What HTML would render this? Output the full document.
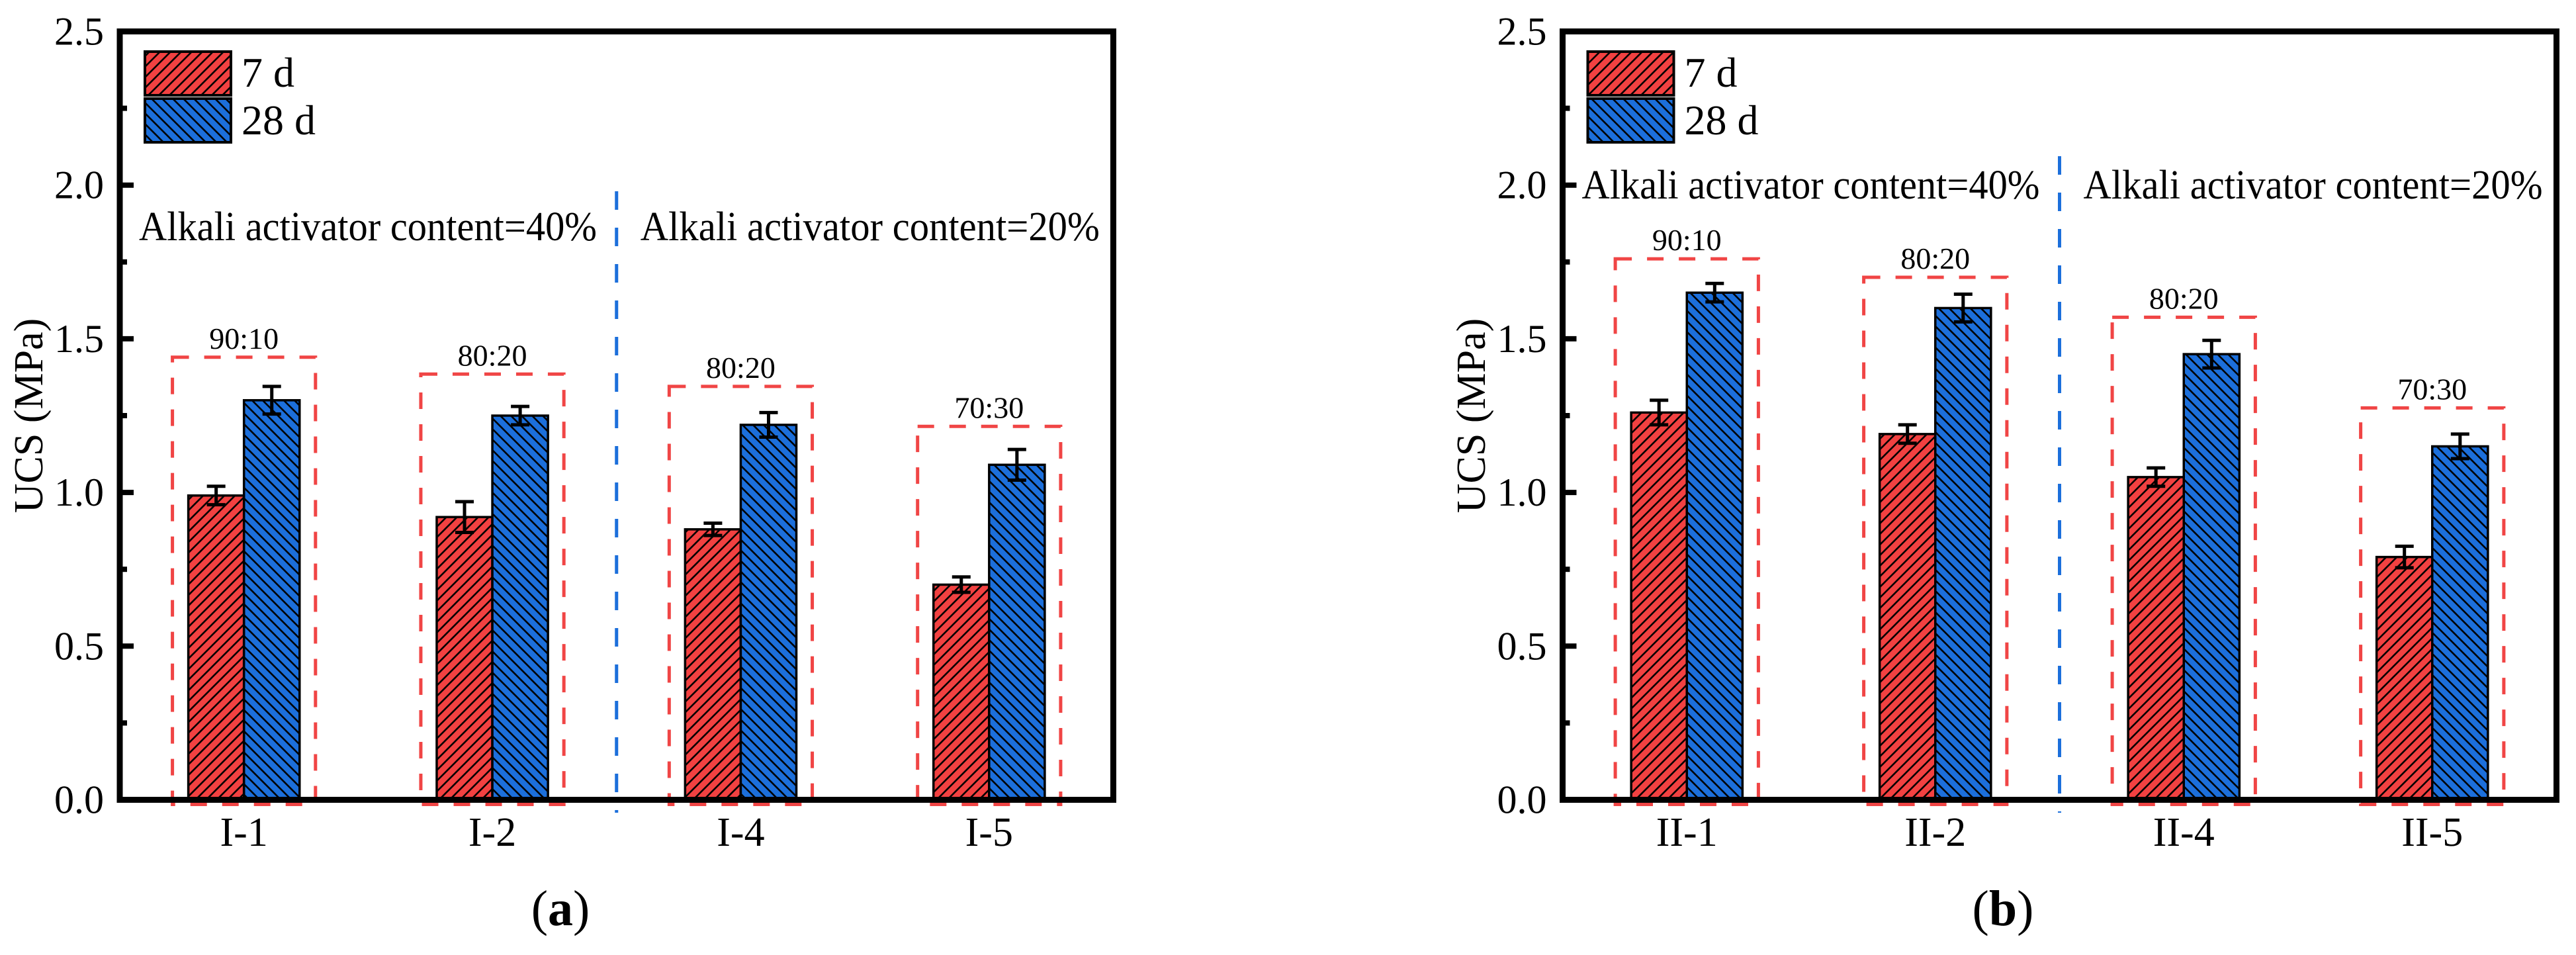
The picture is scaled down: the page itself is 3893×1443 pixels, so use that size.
<!DOCTYPE html>
<html><head><meta charset="utf-8"><style>
html,body{margin:0;padding:0;background:#fff;}
svg, svg text{font-family:"Liberation Serif","Times New Roman",serif;}
</style></head><body>
<svg id="chart" width="3893" height="1438" viewBox="0 0 3893 1438" xmlns="http://www.w3.org/2000/svg" font-family="Liberation Serif, serif">
<defs>
<pattern id="hatchRed" patternUnits="userSpaceOnUse" width="16" height="16">
<rect width="16" height="16" fill="#F24141"/>
<path d="M-4,4 L4,-4 M0,16 L16,0 M12,20 L20,12" stroke="#000" stroke-width="2.6"/>
</pattern>
<pattern id="hatchBlue" patternUnits="userSpaceOnUse" width="16" height="16">
<rect width="16" height="16" fill="#1C6FDB"/>
<path d="M-4,12 L4,20 M0,0 L16,16 M12,-4 L20,4" stroke="#000" stroke-width="2.6"/>
</pattern>
</defs>
</svg>
<script>
const categoriesA = ["I-1","I-2","I-4","I-5"];
const categoriesB = ["II-1","II-2","II-4","II-5"];
const day7A = [0.99,0.92,0.88,0.70];
const day28A = [1.30,1.25,1.22,1.09];
const err7A = [0.03,0.05,0.02,0.025];
const err28A = [0.045,0.03,0.04,0.05];
const day7B = [1.26,1.19,1.05,0.79];
const day28B = [1.65,1.60,1.45,1.15];
const err7B = [0.04,0.03,0.03,0.035];
const err28B = [0.03,0.045,0.045,0.04];
const ratioLabelsA = ["90:10","80:20","80:20","70:30"];
const ratioLabelsB = ["90:10","80:20","80:20","70:30"];
const boxTopsA = [1.44,1.385,1.345,1.215];
const boxTopsB = [1.76,1.70,1.57,1.275];
const yTicks = ["0.0","0.5","1.0","1.5","2.0","2.5"];

const NS = "http://www.w3.org/2000/svg";
const FONT = "Liberation Serif, Times New Roman, serif";
const svg = document.getElementById("chart");
function mk(tag, attrs, parent){
  const e = document.createElementNS(NS, tag);
  if (tag === "text") e.setAttribute("font-family", FONT);
  for (const k in attrs) e.setAttribute(k, attrs[k]);
  (parent||svg).appendChild(e);
  return e;
}

function panel(cfg){
  const g = mk("g", {});
  
  
  const L = cfg.left, R = cfg.right, T = 47.5, B = 1208.5;
  const W = R - L;
  const y = v => B - v / 2.5 * (B - T);
  const xc = i => L + W * (i + 0.5) / 4;
  const bw = W * 0.056;

  cfg.cats.forEach((c, i) => {
    const bx = mk("rect", {x: xc(i) - W*0.072, y: y(cfg.boxTops[i]), width: W*0.144, height: y(-0.015) - y(cfg.boxTops[i]),
      fill: "none", stroke: "#F04545", "stroke-width": 5, "stroke-dasharray": "25 23"}, g);
    
    
    const lb = mk("text", {x: xc(i), y: y(cfg.boxTops[i]) - 13, "text-anchor": "middle", "font-size": 46}, g);
    lb.textContent = cfg.ratios[i];
    
    
  });

  cfg.cats.forEach((c, i) => {
    const series = [[cfg.d7, cfg.e7, "url(#hatchRed)", "7d"], [cfg.d28, cfg.e28, "url(#hatchBlue)", "28d"]];
    series.forEach((s, k) => {
      const x0 = xc(i) - bw + k * bw;
      const b = mk("rect", {x: x0, y: y(s[0][i]), width: bw, height: B - y(s[0][i]), fill: s[2], stroke: "#000", "stroke-width": 3.5}, g);
      
      
      const cx = x0 + bw / 2, yt = y(s[0][i] + s[1][i]), yb = y(s[0][i] - s[1][i]);
      const eb = mk("path", {d: `M${cx},${yt}V${yb}M${cx-14},${yt}H${cx+14}M${cx-14},${yb}H${cx+14}`, stroke: "#000", "stroke-width": 5, fill: "none"}, g);
      
      
    });
  });

  const dv = mk("line", {x1: (L+R)/2, x2: (L+R)/2, y1: cfg.divTop, y2: 1228, stroke: "#1C6FDB", "stroke-width": 5, "stroke-dasharray": "28 27"}, g);
  
  

  const a1 = mk("text", {x: L + 29, y: cfg.annY, "font-size": 62, textLength: 692, lengthAdjust: "spacingAndGlyphs"}, g);
  a1.textContent = "Alkali activator content=40%";
  
  
  const a2 = mk("text", {x: L + W*0.524, y: cfg.annY, "font-size": 62, textLength: 694, lengthAdjust: "spacingAndGlyphs"}, g);
  a2.textContent = "Alkali activator content=20%";
  
  

  const fr = mk("rect", {x: L, y: T, width: W, height: B - T, fill: "none", stroke: "#000", "stroke-width": 9}, g);
  
  

  yTicks.forEach((t, i) => {
    const v = parseFloat(t);
    const tk = mk("line", {x1: L, x2: L + 21, y1: y(v), y2: y(v), stroke: "#000", "stroke-width": 8}, g);
    
    
    const tl = mk("text", {x: L - 24, y: y(v) + 20, "text-anchor": "end", "font-size": 60}, g);
    tl.textContent = t;
    
    
    if (i < yTicks.length - 1) {
      const mn = mk("line", {x1: L, x2: L + 11, y1: y(v + 0.25), y2: y(v + 0.25), stroke: "#000", "stroke-width": 8}, g);
      
      
    }
  });

  cfg.cats.forEach((c, i) => {
    const xl = mk("text", {x: xc(i), y: 1278, "text-anchor": "middle", "font-size": 62}, g);
    xl.textContent = c;
    
    
  });

  const yt = mk("text", {x: 0, y: 0, "text-anchor": "middle", "font-size": 62, transform: `translate(${cfg.yTitleX},628) rotate(-90)`}, g);
  yt.textContent = "UCS (MPa)";
  
  

  const lg = mk("g", {}, g);
  
  
  [["url(#hatchRed)", "7 d", 78, 131], ["url(#hatchBlue)", "28 d", 149, 203]].forEach((e, k) => {
    const sw = mk("rect", {x: L + 38, y: e[2], width: 130, height: 66, fill: e[0], stroke: "#000", "stroke-width": 4}, lg);
    
    
    const lt = mk("text", {x: L + 184, y: e[3], "font-size": 64}, lg);
    lt.textContent = e[1];
    
    
  });

  const pl = mk("text", {x: cfg.labelX, y: 1398, "text-anchor": "middle", "font-size": 76}, g);
  
  
  const t1 = mk("tspan", {}, pl); t1.textContent = "(";
  const t2 = mk("tspan", {"font-weight": "bold"}, pl); t2.textContent = cfg.letter;
  const t3 = mk("tspan", {}, pl); t3.textContent = ")";
}

panel({name: "panel-a", left: 181, right: 1682.5, cats: categoriesA, d7: day7A, d28: day28A, e7: err7A, e28: err28A,
  ratios: ratioLabelsA, boxTops: boxTopsA, divTop: 289, annY: 363, yTitleX: 64, labelX: 847, letter: "a"});
panel({name: "panel-b", left: 2361.5, right: 3863.5, cats: categoriesB, d7: day7B, d28: day28B, e7: err7B, e28: err28B,
  ratios: ratioLabelsB, boxTops: boxTopsB, divTop: 236, annY: 300, yTitleX: 2244, labelX: 3027, letter: "b"});
</script>
</body></html>
